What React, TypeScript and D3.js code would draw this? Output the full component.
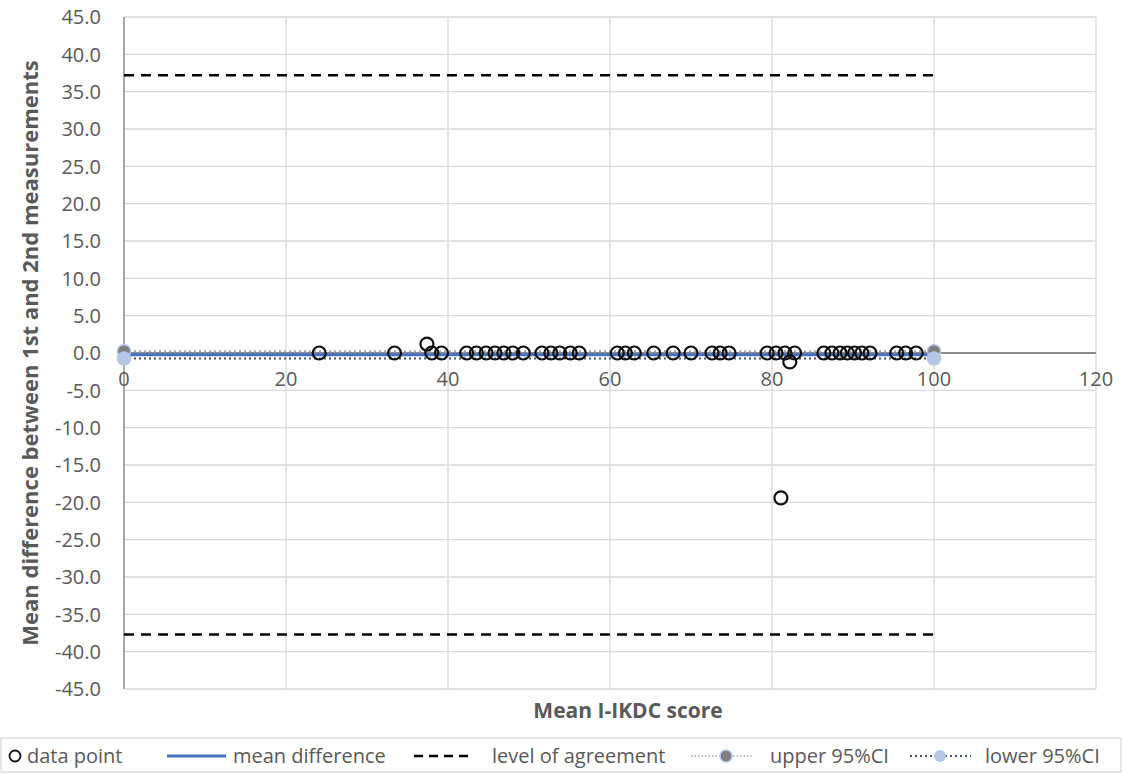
import React, { useRef, useEffect } from "react";
import * as d3 from "d3";

// Bland-Altman data: mean score vs difference between measurements
const meanScores = [24.1, 33.4, 37.4, 38.0, 39.2, 42.3, 43.5, 44.7, 45.8, 46.9, 48.0, 49.3,
  51.6, 52.7, 53.8, 55.1, 56.2, 60.9, 61.9, 63.0, 65.4, 67.8, 70.0, 72.6, 73.6, 74.7,
  79.4, 80.5, 81.1, 81.6, 82.2, 82.8, 86.4, 87.4, 88.4, 89.3, 90.2, 91.1, 92.1,
  95.4, 96.5, 97.8];
const differences = [0, 0, 1.2, 0, 0, 0, 0, 0, 0, 0, 0, 0,
  0, 0, 0, 0, 0, 0, 0, 0, 0, 0, 0, 0, 0, 0,
  0, 0, -19.4, 0, -1.2, 0, 0, 0, 0, 0, 0, 0, 0,
  0, 0, 0];

const lineRange = [0, 100];
const meanDifference = -0.25;
const upperAgreement = 37.2;
const lowerAgreement = -37.7;
const upperCI = 0.25;
const lowerCI = -0.75;

const xTicks = [0, 20, 40, 60, 80, 100, 120];
const yTicks = d3.range(-45, 46, 5);

const legendItems = ["data point", "mean difference", "level of agreement", "upper 95%CI", "lower 95%CI"];

function BlandAltman() {
  const svgRef = useRef();

  useEffect(() => {
    const width = 1122;
    const height = 774;
    const font = "'Open Sans', 'DejaVu Sans', sans-serif";
    const textColor = "#595959";
    const gridColor = "#d9d9d9";

    const x = d3.scaleLinear().domain([0, 120]).range([124, 1096]);
    const y = d3.scaleLinear().domain([-45, 45]).range([689, 17]);

    const svg = d3.select(svgRef.current)
      .attr("width", width)
      .attr("height", height)
      .style("font-family", font);
    svg.selectAll("*").remove();

    svg.append("rect").attr("width", width).attr("height", height).attr("fill", "#fff");

    // gridlines
    svg.append("g")
      .selectAll("line")
      .data(yTicks)
      .join("line")
      .attr("x1", x(0)).attr("x2", x(120))
      .attr("y1", d => y(d)).attr("y2", d => y(d))
      .attr("stroke", gridColor).attr("stroke-width", 1.3);
    svg.append("g")
      .selectAll("line")
      .data(xTicks.filter(d => d > 0))
      .join("line")
      .attr("x1", d => x(d)).attr("x2", d => x(d))
      .attr("y1", y(45)).attr("y2", y(-45))
      .attr("stroke", gridColor).attr("stroke-width", 1.3);

    // axes lines
    svg.append("line")
      .attr("x1", x(0)).attr("x2", x(0))
      .attr("y1", y(45)).attr("y2", y(-45))
      .attr("stroke", "#8c8c8c").attr("stroke-width", 1.5);
    svg.append("line")
      .attr("x1", x(0)).attr("x2", x(120))
      .attr("y1", y(0)).attr("y2", y(0))
      .attr("stroke", "#8c8c8c").attr("stroke-width", 2);

    // tick labels
    svg.append("g")
      .selectAll("text")
      .data(yTicks)
      .join("text")
      .attr("x", 101)
      .attr("y", d => y(d))
      .attr("dy", "0.36em")
      .attr("text-anchor", "end")
      .attr("fill", textColor)
      .attr("font-size", 20)
      .text(d => d.toFixed(1));
    svg.append("g")
      .selectAll("text")
      .data(xTicks)
      .join("text")
      .attr("x", d => x(d))
      .attr("y", y(0) + 33)
      .attr("text-anchor", "middle")
      .attr("fill", textColor)
      .attr("font-size", 20)
      .text(d => d);

    // axis titles
    svg.append("text")
      .attr("transform", `translate(38,${y(0)}) rotate(-90)`)
      .attr("text-anchor", "middle")
      .attr("fill", textColor)
      .attr("font-size", 22)
      .attr("font-weight", "bold")
      .text("Mean difference between 1st and 2nd measurements");
    svg.append("text")
      .attr("x", 628)
      .attr("y", 718)
      .attr("text-anchor", "middle")
      .attr("fill", textColor)
      .attr("font-size", 21)
      .attr("font-weight", "bold")
      .text("Mean I-IKDC score");

    const hline = (g, v, stroke, sw, dash) => g.append("line")
      .attr("x1", x(lineRange[0])).attr("x2", x(lineRange[1]))
      .attr("y1", y(v)).attr("y2", y(v))
      .attr("stroke", stroke).attr("stroke-width", sw)
      .attr("stroke-dasharray", dash);

    const lines = svg.append("g");
    hline(lines, upperAgreement, "#000", 2.5, "10,7");
    hline(lines, lowerAgreement, "#000", 2.5, "10,7");
    hline(lines, upperCI, "#a6a6a6", 2, "2,3");
    hline(lines, lowerCI, "#44546a", 2, "2,3");
    hline(lines, meanDifference, "#4472c4", 3, null);

    // CI markers
    lines.selectAll(".up")
      .data(lineRange)
      .join("circle")
      .attr("class", "up")
      .attr("cx", d => x(d)).attr("cy", y(upperCI))
      .attr("r", 6.5)
      .attr("fill", "#7f7f7f").attr("stroke", "#b4c7e7").attr("stroke-width", 1.5);
    lines.selectAll(".low")
      .data(lineRange)
      .join("circle")
      .attr("class", "low")
      .attr("cx", d => x(d)).attr("cy", y(lowerCI))
      .attr("r", 6.5)
      .attr("fill", "#b4c7e7").attr("stroke", "#b4c7e7").attr("stroke-width", 1.5);

    // data points
    svg.append("g")
      .selectAll("circle")
      .data(meanScores.map((m, i) => [m, differences[i]]))
      .join("circle")
      .attr("cx", d => x(d[0]))
      .attr("cy", d => y(d[1]))
      .attr("r", 6.5)
      .attr("fill", "none")
      .attr("stroke", "#111")
      .attr("stroke-width", 2.2);

    // legend
    const legend = svg.append("g");
    legend.append("rect")
      .attr("x", 1).attr("y", 738).attr("width", 1120).attr("height", 34)
      .attr("fill", "#fff").attr("stroke", gridColor).attr("stroke-width", 1.3);
    const ly = 756;
    const textX = [27, 233, 492, 770, 985];
    legend.append("circle").attr("cx", 15).attr("cy", ly).attr("r", 5.5)
      .attr("fill", "none").attr("stroke", "#111").attr("stroke-width", 1.8);
    legend.append("line").attr("x1", 167).attr("x2", 226).attr("y1", ly).attr("y2", ly)
      .attr("stroke", "#4472c4").attr("stroke-width", 3);
    legend.append("line").attr("x1", 414).attr("x2", 470).attr("y1", ly).attr("y2", ly)
      .attr("stroke", "#000").attr("stroke-width", 2.5).attr("stroke-dasharray", "9,6");
    legend.append("line").attr("x1", 691).attr("x2", 753).attr("y1", ly).attr("y2", ly)
      .attr("stroke", "#a6a6a6").attr("stroke-width", 1.5).attr("stroke-dasharray", "1.5,2");
    legend.append("circle").attr("cx", 726).attr("cy", ly).attr("r", 6)
      .attr("fill", "#7f7f7f").attr("stroke", "#b4c7e7").attr("stroke-width", 1.5);
    legend.append("line").attr("x1", 910).attr("x2", 971).attr("y1", ly).attr("y2", ly)
      .attr("stroke", "#44546a").attr("stroke-width", 2).attr("stroke-dasharray", "2,3");
    legend.append("circle").attr("cx", 940).attr("cy", ly).attr("r", 6)
      .attr("fill", "#b4c7e7");
    legend.selectAll("text")
      .data(legendItems)
      .join("text")
      .attr("x", (d, i) => textX[i])
      .attr("y", ly)
      .attr("dy", "0.36em")
      .attr("fill", textColor)
      .attr("font-size", 20)
      .text(d => d);
  }, []);

  return (<svg ref={svgRef} style={{ position: "absolute", left: 0, top: 0 }}></svg>);
}

export default function App() {
  return <BlandAltman />;
}
